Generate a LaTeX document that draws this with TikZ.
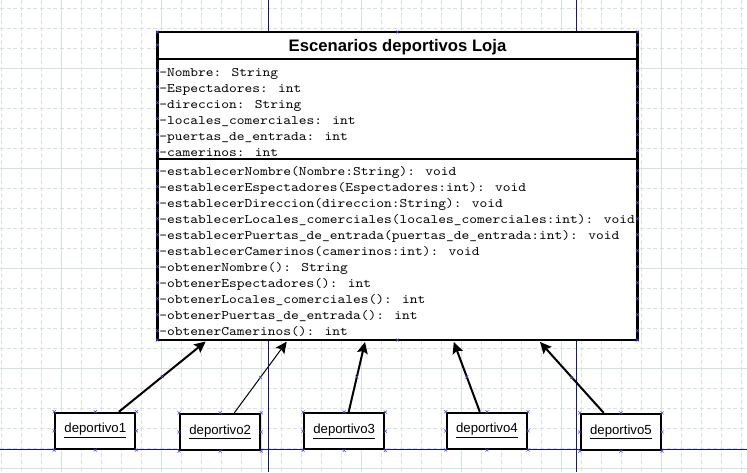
\documentclass[tikz,border=0pt]{standalone}
\usepackage{fontspec}
\setmainfont{Liberation Sans}
\newfontfamily\monof[FakeStretch=1.136]{lmmono10-regular.otf}
\usetikzlibrary{arrows.meta,calc}
\definecolor{gridc}{RGB}{212,226,226}
\definecolor{pageline}{RGB}{20,20,140}
\definecolor{mk}{RGB}{70,70,235}
\begin{document}
\begin{tikzpicture}[x=0.75pt,y=-0.75pt,
  gridd/.style={draw=gridc,line width=0.75pt,dash pattern=on 3pt off 2pt},
  grids/.style={draw=gridc,line width=0.75pt},
  pline/.style={draw=pageline,line width=0.75pt},
  cbox/.style={draw=black,fill=white,line width=1.7pt,minimum width=360pt,minimum height=231pt,inner sep=0pt},
  obj/.style={draw=black,fill=white,line width=1.7pt,minimum width=60pt,minimum height=27pt,inner sep=0pt,font=\fontsize{9.9pt}{11pt}\selectfont},
  ttl/.style={font=\bfseries\fontsize{12.5pt}{14pt}\selectfont,inner sep=0pt,anchor=base},
  mono/.style={font=\monof\fontsize{9.75pt}{11pt}\selectfont,inner sep=0pt,anchor=base west},
  arr/.style={-{Stealth[length=8.5pt,width=8pt,inset=1.5pt]},line width=1.5pt},
  arrthin/.style={arr,line width=0.75pt},
  sepline/.style={line width=1.7pt},
  mks/.style={color=mk,line width=0.4pt}
]
\useasboundingbox (0,0) rectangle (747,472);
\fill[white] (0,0) rectangle (747,472);
% grid
\foreach \i in {0,...,37} \draw[gridd] ({1.7+20*\i},0) -- ({1.7+20*\i},472);
\foreach \i in {0,...,23} \draw[gridd] (0,{8.3+20*\i}) -- (747,{8.3+20*\i});
\foreach \i in {0,...,6} \draw[grids] ({61.7+100*\i},0) -- ({61.7+100*\i},472);
\foreach \i in {0,...,4} \draw[grids] (0,{68.3+100*\i}) -- (747,{68.3+100*\i});
% page lines
\draw[pline] (268,0) -- (268,472);
\draw[pline] (576,0) -- (576,472);
\draw[pline] (0,449) -- (747,449);
% class box
\node[cbox] (cls) at (397.5,186) {};
\draw[sepline] ($(cls.north west)+(0,28)$) -- ($(cls.north east)+(0,28)$);
\draw[sepline] ($(cls.north west)+(0,128)$) -- ($(cls.north east)+(0,128)$);
\node[ttl] (title) at (397.5,51.5) {Escenarios deportivos Loja};
\node[mono] (a1) at (159,76) {-Nombre: String};
\node[mono] (a2) at (159,92) {-Espectadores: int};
\node[mono] (a3) at (159,108) {-direccion: String};
\node[mono] (a4) at (159,124) {-locales\_comerciales: int};
\node[mono] (a5) at (159,140) {-puertas\_de\_entrada: int};
\node[mono] (a6) at (159,156) {-camerinos: int};
\node[mono] (m1) at (159,175) {-establecerNombre(Nombre:String): void};
\node[mono] (m2) at (159,191) {-establecerEspectadores(Espectadores:int): void};
\node[mono] (m3) at (159,207) {-establecerDireccion(direccion:String): void};
\node[mono] (m4) at (159,223) {-establecerLocales\_comerciales(locales\_comerciales:int): void};
\node[mono] (m5) at (159,239) {-establecerPuertas\_de\_entrada(puertas\_de\_entrada:int): void};
\node[mono] (m6) at (159,255) {-establecerCamerinos(camerinos:int): void};
\node[mono] (m7) at (159,271) {-obtenerNombre(): String};
\node[mono] (m8) at (159,287) {-obtenerEspectadores(): int};
\node[mono] (m9) at (159,303) {-obtenerLocales\_comerciales(): int};
\node[mono] (m10) at (159,319) {-obtenerPuertas\_de\_entrada(): int};
\node[mono] (m11) at (159,335) {-obtenerCamerinos(): int};
% objects
\node[obj] (d1) at (95.3,430.9) {\underline{deportivo1}};
\node[obj] (d2) at (220.2,432) {\underline{deportivo2}};
\node[obj] (d3) at (344.2,431.2) {\underline{deportivo3}};
\node[obj] (d4) at (486.9,430.9) {\underline{deportivo4}};
\node[obj] (d5) at (620.9,432) {\underline{deportivo5}};
% arrow targets
\coordinate (t1) at (205.7,341.5);
\coordinate (t2) at (286.7,341.7);
\coordinate (t3) at (365,342);
\coordinate (t4) at (453.8,342);
\coordinate (t5) at (540,342);
\draw[arr] (d1) -- coordinate[midway] (c1) (t1);
\draw[arrthin] (d2) -- coordinate[midway] (c2) (t2);
\draw[arr] (d3) -- coordinate[midway] (c3) (t3);
\draw[arr] (d4) -- coordinate[midway] (c4) (t4);
\draw[arr] (d5) -- coordinate[midway] (c5) (t5);
% markers
\draw[mks] plot[only marks,mark=x,mark size=1.6pt] coordinates {(c1) (c2) (c3) (c4) (c5) (397.5,32) (397.5,340)};
\foreach \y in {32,45,70.7,86.7,102.7,118.7,134.7,150.7,170.7,186.7,202.7,218.7,234.7,250.7,266.7,282.7,298.7,314.7,330.7,340}
  \draw[mks] plot[only marks,mark=x,mark size=1.6pt] coordinates {(157.5,\y) (637.5,\y)};
\foreach \d in {d1,d2,d3,d4,d5}
  \draw[mks] plot[only marks,mark=x,mark size=1.6pt] coordinates {(\d.north west) (\d.north) (\d.north east) (\d.west) (\d.east) (\d.south west) (\d.south) (\d.south east)};
\end{tikzpicture}
\end{document}
